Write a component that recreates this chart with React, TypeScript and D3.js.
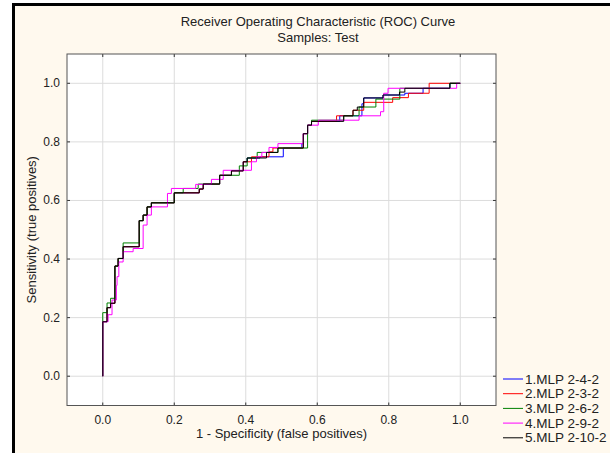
import React from "react";
import * as d3 from "d3";

// ---- Data ----
const seriesNames = ["1.MLP 2-4-2", "2.MLP 2-3-2", "3.MLP 2-6-2", "4.MLP 2-9-2", "5.MLP 2-10-2"];
const seriesColors = ["#0000ff", "#ff0000", "#008000", "#ff00ff", "#000000"];
const xTicks = [0.0, 0.2, 0.4, 0.6, 0.8, 1.0];
const yTicks = [0.0, 0.2, 0.4, 0.6, 0.8, 1.0];

// ROC points as [1 - specificity, sensitivity]
const roc1: [number, number][] = [
  [0, 0], [0, 0.186], [0.012, 0.234], [0.022, 0.249], [0.034, 0.376], [0.043, 0.402], [0.057, 0.442],
  [0.102, 0.531], [0.113, 0.55], [0.124, 0.578], [0.136, 0.592], [0.2, 0.626], [0.27, 0.639],
  [0.281, 0.656], [0.327, 0.686], [0.36, 0.701], [0.393, 0.732], [0.404, 0.745], [0.44, 0.749],
  [0.505, 0.779], [0.557, 0.794], [0.561, 0.828], [0.573, 0.857], [0.584, 0.87], [0.663, 0.889],
  [0.725, 0.93], [0.73, 0.95], [0.784, 0.96], [0.845, 0.966], [0.896, 0.983], [0.971, 1.0], [1, 1],
];
const roc2: [number, number][] = [
  [0, 0], [0, 0.186], [0.012, 0.234], [0.022, 0.249], [0.034, 0.376], [0.043, 0.402], [0.057, 0.442],
  [0.102, 0.531], [0.113, 0.55], [0.124, 0.578], [0.136, 0.592], [0.2, 0.626], [0.27, 0.639],
  [0.281, 0.656], [0.327, 0.686], [0.36, 0.701], [0.393, 0.732], [0.416, 0.749], [0.465, 0.766],
  [0.476, 0.779], [0.561, 0.828], [0.573, 0.857], [0.584, 0.87], [0.654, 0.889], [0.7, 0.908],
  [0.73, 0.935], [0.811, 0.951], [0.855, 0.966], [0.913, 1.0], [1, 1],
];
const roc3: [number, number][] = [
  [0, 0], [0, 0.217], [0.012, 0.25], [0.022, 0.266], [0.034, 0.376], [0.043, 0.402], [0.057, 0.455],
  [0.102, 0.531], [0.113, 0.55], [0.124, 0.578], [0.136, 0.592], [0.2, 0.626], [0.225, 0.641],
  [0.267, 0.656], [0.327, 0.686], [0.382, 0.718], [0.404, 0.745], [0.432, 0.764], [0.49, 0.779],
  [0.573, 0.857], [0.584, 0.874], [0.674, 0.889], [0.717, 0.919], [0.764, 0.946], [0.831, 0.983],
  [0.971, 1.0], [1, 1],
];
const roc4: [number, number][] = [
  [0, 0], [0, 0.186], [0.015, 0.21], [0.026, 0.26], [0.038, 0.31], [0.04, 0.34], [0.045, 0.39],
  [0.057, 0.425], [0.085, 0.436], [0.113, 0.516], [0.124, 0.55], [0.136, 0.578], [0.181, 0.624],
  [0.192, 0.641], [0.26, 0.655], [0.304, 0.672], [0.337, 0.703], [0.416, 0.732], [0.43, 0.749],
  [0.445, 0.764], [0.465, 0.781], [0.49, 0.794], [0.561, 0.828], [0.573, 0.857], [0.603, 0.874],
  [0.717, 0.889], [0.777, 0.903], [0.786, 0.966], [0.798, 0.983], [0.99, 1.0], [1, 1],
];
const roc5: [number, number][] = [
  [0, 0], [0, 0.186], [0.012, 0.234], [0.022, 0.249], [0.034, 0.376], [0.043, 0.402], [0.057, 0.442],
  [0.102, 0.531], [0.113, 0.55], [0.124, 0.578], [0.136, 0.592], [0.2, 0.626], [0.27, 0.639],
  [0.281, 0.656], [0.327, 0.686], [0.36, 0.701], [0.393, 0.732], [0.404, 0.745], [0.458, 0.764],
  [0.49, 0.779], [0.561, 0.828], [0.573, 0.857], [0.584, 0.87], [0.674, 0.889], [0.7, 0.908],
  [0.712, 0.919], [0.73, 0.95], [0.784, 0.96], [0.83, 0.97], [0.845, 0.983], [0.971, 1.0], [1, 1],
];
const rocSeries = [roc1, roc2, roc3, roc4, roc5];

// ---- Layout ----
const W = 610;
const H = 453;
const plot = { left: 67, right: 496, top: 54, bottom: 405.5 };
const FONT = "'Liberation Sans', Arial, sans-serif";

export default function App() {
  const x = d3.scaleLinear().domain([-0.1, 1.1]).range([plot.left, plot.right]);
  const y = d3.scaleLinear().domain([-0.1, 1.1]).range([plot.bottom, plot.top]);
  const line = d3
    .line<[number, number]>()
    .x((d) => x(d[0]))
    .y((d) => y(d[1]))
    .curve(d3.curveStepAfter);

  const legendX = 503;
  const legendY0 = 379;
  const legendStep = 14.7;

  return (
    <svg
      width={W}
      height={H}
      style={{ position: "absolute", left: 0, top: 0, display: "block" }}
      fontFamily={FONT}
    >
      <rect x={0} y={0} width={W} height={H} fill="#ffffff" />
      <rect x={12} y={3} width={W - 12} height={H - 3} fill="#fff9ee" />
      <rect x={12} y={3} width={3} height={H - 3} fill="#000" />
      <rect x={12} y={3} width={W - 12} height={3} fill="#000" />

      <text x={318} y={26} textAnchor="middle" fontSize={13} fill="#222">
        Receiver Operating Characteristic (ROC) Curve
      </text>
      <text x={318} y={42} textAnchor="middle" fontSize={13} fill="#222">
        Samples: Test
      </text>

      <rect
        x={plot.left}
        y={plot.top}
        width={plot.right - plot.left}
        height={plot.bottom - plot.top}
        fill="#ffffff"
      />
      {xTicks.map((t) => (
        <line key={"gx" + t} x1={x(t)} x2={x(t)} y1={plot.top} y2={plot.bottom} stroke="#dcdcdc" strokeWidth={1} />
      ))}
      {yTicks.map((t) => (
        <line key={"gy" + t} x1={plot.left} x2={plot.right} y1={y(t)} y2={y(t)} stroke="#dcdcdc" strokeWidth={1} />
      ))}
      {xTicks.map((t) => (
        <g key={"tx" + t}>
          <line x1={x(t)} x2={x(t)} y1={plot.bottom} y2={plot.bottom - 3} stroke="#333" />
          <line x1={x(t)} x2={x(t)} y1={plot.top} y2={plot.top + 3} stroke="#333" />
          <text x={x(t)} y={424} textAnchor="middle" fontSize={12} fill="#222">
            {d3.format(".1f")(t)}
          </text>
        </g>
      ))}
      {yTicks.map((t) => (
        <g key={"ty" + t}>
          <line x1={plot.left} x2={plot.left + 3} y1={y(t)} y2={y(t)} stroke="#333" />
          <line x1={plot.right} x2={plot.right - 3} y1={y(t)} y2={y(t)} stroke="#333" />
          <text x={60} y={y(t) + 4} textAnchor="end" fontSize={12} fill="#222">
            {d3.format(".1f")(t)}
          </text>
        </g>
      ))}

      {rocSeries.map((s, i) => (
        <path key={"s" + i} d={line(s) ?? ""} fill="none" stroke={seriesColors[i]} strokeWidth={1} />
      ))}

      <rect
        x={plot.left}
        y={plot.top}
        width={plot.right - plot.left}
        height={plot.bottom - plot.top}
        fill="none"
        stroke="#555"
        strokeWidth={1}
      />

      <text x={(plot.left + plot.right) / 2} y={438} textAnchor="middle" fontSize={13} fill="#222">
        1 - Specificity (false positives)
      </text>
      <text
        transform={`translate(36, ${(plot.top + plot.bottom) / 2}) rotate(-90)`}
        textAnchor="middle"
        fontSize={13}
        fill="#222"
      >
        Sensitivity (true positives)
      </text>

      {seriesNames.map((n, i) => (
        <g key={"lg" + i}>
          <line
            x1={legendX}
            x2={legendX + 20}
            y1={legendY0 + i * legendStep}
            y2={legendY0 + i * legendStep}
            stroke={seriesColors[i]}
          />
          <text x={legendX + 22} y={legendY0 + i * legendStep + 4.5} fontSize={13.5} fill="#222">
            {n}
          </text>
        </g>
      ))}
    </svg>
  );
}
